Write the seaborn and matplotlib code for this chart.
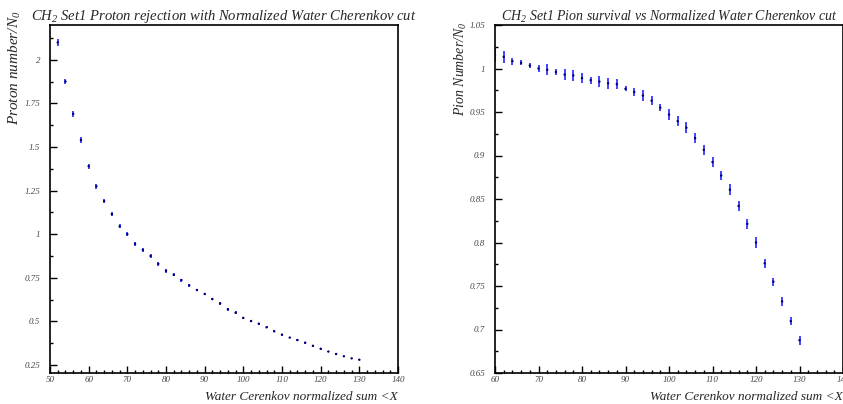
import seaborn as sns
import matplotlib.pyplot as plt
from matplotlib.ticker import MultipleLocator
import pandas as pd

# Proton rejection (left panel)
proton_x = [52, 54, 56, 58, 60, 62, 64, 66, 68, 70, 72, 74, 76, 78, 80, 82, 84, 86, 88, 90,
            92, 94, 96, 98, 100, 102, 104, 106, 108, 110, 112, 114, 116, 118, 120, 122, 124,
            126, 128, 130]
proton_y = [2.100, 1.876, 1.690, 1.540, 1.390, 1.275, 1.190, 1.115, 1.045, 1.000, 0.945,
            0.910, 0.875, 0.830, 0.790, 0.767, 0.737, 0.707, 0.680, 0.657, 0.628, 0.603,
            0.570, 0.550, 0.520, 0.502, 0.487, 0.466, 0.443, 0.424, 0.407, 0.393, 0.378,
            0.360, 0.343, 0.327, 0.313, 0.300, 0.288, 0.280]
proton_err = [0.018, 0.017, 0.016, 0.015, 0.014, 0.013, 0.012, 0.012, 0.011, 0.011, 0.011,
              0.010, 0.010, 0.011, 0.010, 0.009, 0.009, 0.009, 0.008, 0.008, 0.008, 0.008,
              0.008, 0.007, 0.007, 0.006, 0.006, 0.006, 0.006, 0.006, 0.005, 0.005, 0.005,
              0.005, 0.005, 0.005, 0.004, 0.004, 0.004, 0.004]

# Pion survival (right panel)
pion_x = [60, 62, 64, 66, 68, 70, 72, 74, 76, 78, 80, 82, 84, 86, 88, 90, 92, 94, 96, 98,
          100, 102, 104, 106, 108, 110, 112, 114, 116, 118, 120, 122, 124, 126, 128, 130]
pion_y = [1.0155, 1.0134, 1.0084, 1.0065, 1.0034, 1.0000, 0.9985, 0.9960, 0.9930, 0.9920,
          0.9890, 0.9866, 0.9850, 0.9830, 0.9820, 0.9767, 0.9730, 0.9690, 0.9630, 0.9550,
          0.9470, 0.9395, 0.9320, 0.9200, 0.9066, 0.8924, 0.8770, 0.8607, 0.8420, 0.8214,
          0.8000, 0.7760, 0.7550, 0.7323, 0.7096, 0.6876]
pion_err = [0.0085, 0.0067, 0.0040, 0.0030, 0.0030, 0.0040, 0.0063, 0.0040, 0.0060, 0.0060,
            0.0060, 0.0040, 0.0067, 0.0063, 0.0060, 0.0030, 0.0050, 0.0060, 0.0050, 0.0040,
            0.0060, 0.0060, 0.0060, 0.0060, 0.0060, 0.0060, 0.0050, 0.0060, 0.0060, 0.0060,
            0.0060, 0.0050, 0.0045, 0.0050, 0.0050, 0.0055]

x_label = "Water Cerenkov normalized sum <X"

sns.set_style("white")
plt.rcParams['font.family'] = ['Liberation Serif', 'DejaVu Serif']
plt.rcParams['font.style'] = 'italic'
plt.rcParams['mathtext.fontset'] = 'custom'
plt.rcParams['mathtext.rm'] = 'Liberation Serif:italic'
plt.rcParams['mathtext.it'] = 'Liberation Serif:italic'

fig = plt.figure(figsize=(8.43, 4.04), dpi=100)
ax1 = fig.add_axes([50 / 843, 31 / 404, 348 / 843, 348 / 404])
ax2 = fig.add_axes([495 / 843, 31 / 404, 348 / 843, 348 / 404])

# ax, x, y, err, title, title size, ylabel, ylabel size, xlim, ylim, major, minor, ylabel x, ylabel top
panels = [
    (ax1, proton_x, proton_y, proton_err,
     "CH$_2$ Set1 Proton rejection with Normalized Water Cherenkov cut", 10.5,
     "Proton number/N$_0$", 11, (50, 140), (0.204, 2.2), 0.25, 0.125, 15, 10),
    (ax2, pion_x, pion_y, pion_err,
     "CH$_2$ Set1 Pion survival vs Normalized Water Cherenkov cut", 10,
     "Pion Number/N$_0$", 10, (60, 140), (0.65, 1.05), 0.05, 0.025, 461, 22),
]

for (ax, xs, ys, es, title, tsize, ylabel, lsize, xlim, ylim,
     ymaj, ymin, ylab_x, ylab_top) in panels:
    df = pd.DataFrame({"x": xs, "y": ys, "err": es})
    ax.errorbar(df["x"], df["y"], yerr=df["err"], fmt='none', ecolor='#3535ff',
                elinewidth=1.3, capsize=0)
    sns.scatterplot(data=df, x="x", y="y", ax=ax, color='#000070', s=3,
                    edgecolor='none', marker='o', zorder=3)
    ax.set_xlim(*xlim)
    ax.set_ylim(*ylim)
    ax.xaxis.set_major_locator(MultipleLocator(10))
    ax.xaxis.set_minor_locator(MultipleLocator(2))
    ax.yaxis.set_major_locator(MultipleLocator(ymaj))
    ax.yaxis.set_minor_locator(MultipleLocator(ymin))
    ax.yaxis.set_major_formatter(plt.FuncFormatter(lambda v, p: f"{v:g}"))
    ax.tick_params(which='both', bottom=True, left=True, top=False, right=False,
                   direction='in', width=1, color='black')
    ax.tick_params(which='major', length=5, labelsize=6.5, labelcolor='#444444', pad=2)
    ax.tick_params(which='minor', length=2.5)
    ax.tick_params(axis='y', which='major', pad=7)
    for sp in ax.spines.values():
        sp.set_visible(True)
        sp.set_color('black')
        sp.set_linewidth(1.2)
    ax.set_xlabel("")
    ax.set_ylabel("")
    ax.set_title(title, fontsize=tsize, pad=1.5)
    ax.text(1.0, -0.069, x_label, transform=ax.transAxes, ha='right', va='center',
            fontsize=9.5)
    fig.text(ylab_x / 843, 1 - ylab_top / 404, ylabel, rotation=90, ha='center', va='top',
             fontsize=lsize)

plt.savefig("out.png", dpi=100)
